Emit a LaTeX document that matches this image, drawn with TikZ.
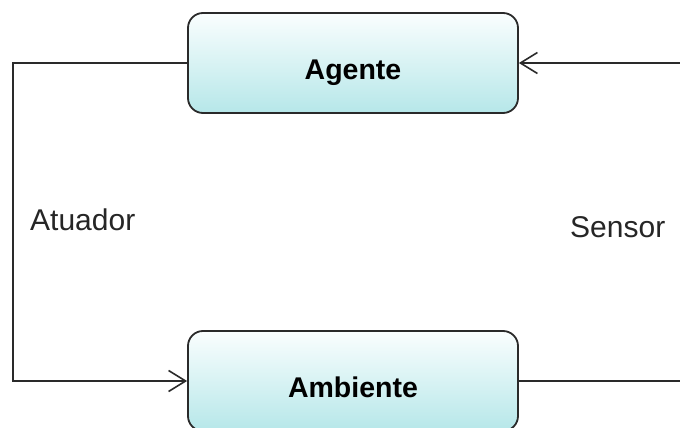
\documentclass[tikz,border=0pt]{standalone}
\usepackage{fontspec}
\setmainfont{Liberation Sans}
\usetikzlibrary{arrows.meta}
\definecolor{edge}{HTML}{2A2A2A}
\definecolor{boxtop}{HTML}{FAFEFE}
\definecolor{boxbottom}{HTML}{B6E7E9}
\tikzset{
  block/.style={draw=edge, line width=1.8pt, rounded corners=15pt,
    minimum width=330pt, minimum height=100pt, inner sep=0pt,
    top color=boxtop, bottom color=boxbottom,
    font=\fontsize{28.5}{30}\selectfont\bfseries,
    text height=32pt, text depth=0pt},
  wire/.style={draw=edge, line width=1.8pt},
  tip/.style={-{Straight Barb[length=17pt, width=21pt, line width=1.6pt]}},
  tag/.style={font=\fontsize{30}{32}\selectfont, text=black!85, inner sep=0pt, anchor=base west}
}
\begin{document}
\begin{tikzpicture}[x=1pt, y=-1pt]
  \clip (0,0) rectangle (680,428);
  \fill[white] (0,0) rectangle (680,428);

  \node[block] (agente) at (353,63) {Agente};
  \node[block] (ambiente) at (353,381) {Ambiente};

  % loop corners: left side inside the frame, right side beyond it
  \coordinate (lt) at (13,63);
  \coordinate (lb) at (13,381);
  \coordinate (rt) at (700,63);
  \coordinate (rb) at (700,381);

  \draw[wire, tip] (agente.west) -- (lt) -- (lb) -- (ambiente.west);
  \draw[wire, tip] (ambiente.east) -- (rb) -- (rt) -- (agente.east);

  \node[tag] (atuador) at (30,230) {Atuador};
  \node[tag] (sensor) at (570,237) {Sensor};
\end{tikzpicture}
\end{document}
